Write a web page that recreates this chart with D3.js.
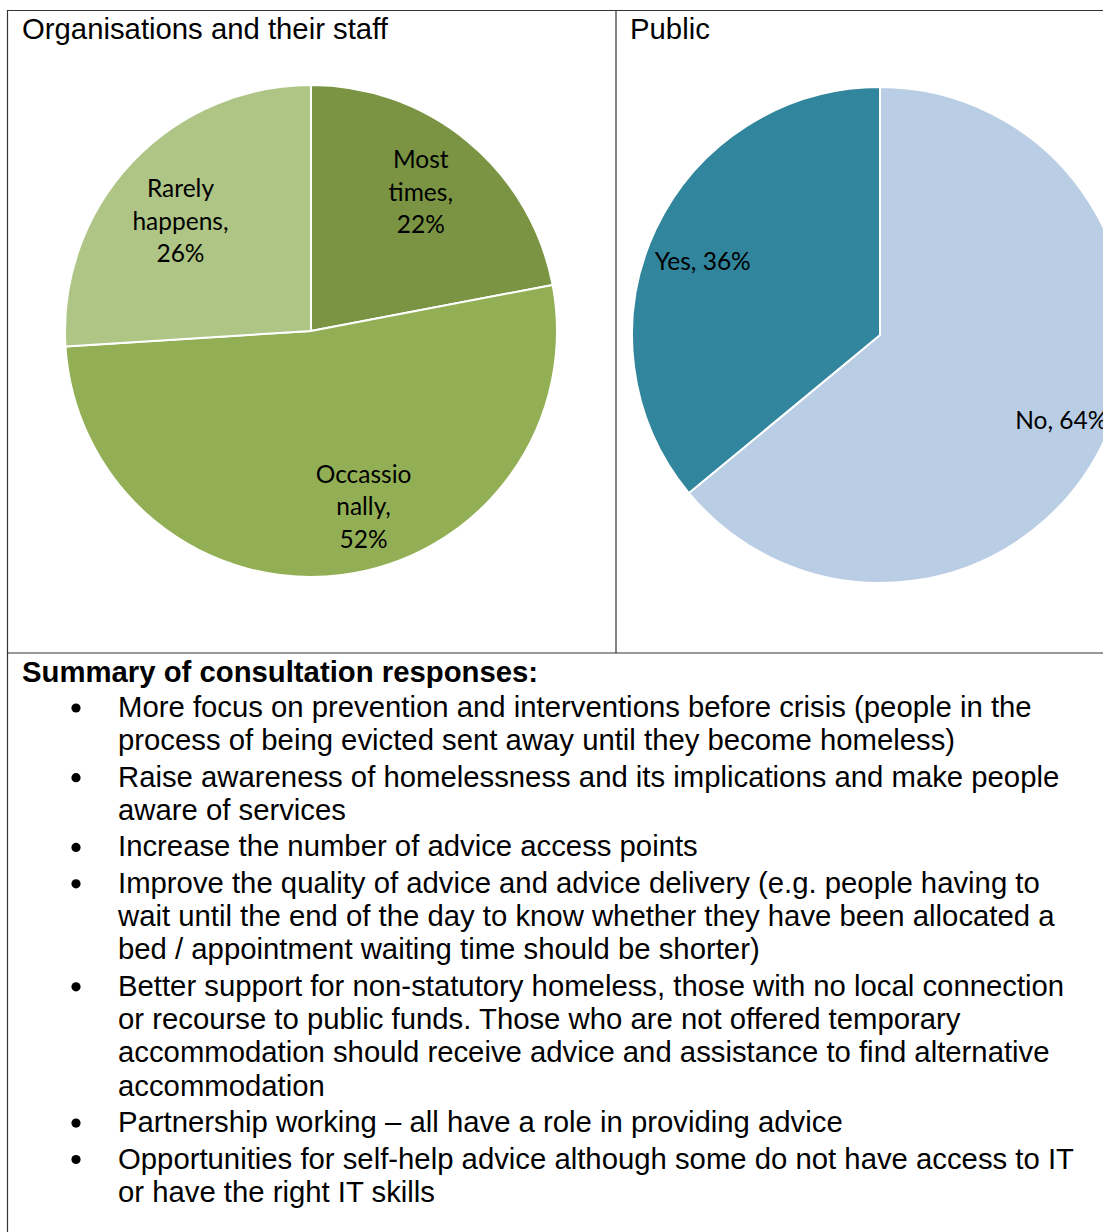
<!DOCTYPE html>
<html>
<head>
<meta charset="utf-8">
<script src="https://cdn.jsdelivr.net/npm/d3@7"></script>
<style>
  html, body { margin: 0; padding: 0; background: #fff; }
  svg { display: block; }
</style>
</head>
<body>
<script>
// ---------- Data ----------
const orgCategories = ["Most times", "Occassionally", "Rarely happens"];
const orgValues = [22, 52, 26];
const orgLabelLines = [["Most", "times,", "22%"], ["Occassio", "nally,", "52%"], ["Rarely", "happens,", "26%"]];

const publicCategories = ["No", "Yes"];
const publicValues = [64, 36];
const publicLabelLines = [["No, 64%"], ["Yes, 36%"]];

const panelTitles = ["Organisations and their staff", "Public"];

const summaryHeading = "Summary of consultation responses:";
const summaryBullets = [
  ["More focus on prevention and interventions before crisis (people in the",
   "process of being evicted sent away until they become homeless)"],
  ["Raise awareness of homelessness and its implications and make people",
   "aware of services"],
  ["Increase the number of advice access points"],
  ["Improve the quality of advice and advice delivery (e.g. people having to",
   "wait until the end of the day to know whether they have been allocated a",
   "bed / appointment waiting time should be shorter)"],
  ["Better support for non-statutory homeless, those with no local connection",
   "or recourse to public funds. Those who are not offered temporary",
   "accommodation should receive advice and assistance to find alternative",
   "accommodation"],
  ["Partnership working \u2013 all have a role in providing advice"],
  ["Opportunities for self-help advice although some do not have access to IT",
   "or have the right IT skills"]
];

// ---------- Layout / style ----------
const W = 1103, H = 1232;
const orgColors = ["#7a9443", "#93af55", "#aec585"];
const publicColors = ["#b9cde5", "#31859c"];
const lineColor = "#333";
const sansFont = "'Liberation Sans', Arial, sans-serif";
const labelFont = "Lato, 'Open Sans', sans-serif";
const bodySize = 29.3;

const svg = d3.select("body").append("svg")
  .attr("width", W).attr("height", H);

// Table borders
const border = svg.append("g").attr("stroke", lineColor).attr("stroke-width", 1.2).attr("fill", "none");
border.append("line").attr("x1", 7).attr("x2", W).attr("y1", 10.5).attr("y2", 10.5);
border.append("line").attr("x1", 7.5).attr("x2", 7.5).attr("y1", 10).attr("y2", H);
border.append("line").attr("x1", 616).attr("x2", 616).attr("y1", 10).attr("y2", 653);
border.append("line").attr("x1", 7).attr("x2", W).attr("y1", 653).attr("y2", 653);

// Panel titles
svg.selectAll("text.title").data(panelTitles).join("text")
  .attr("class", "title")
  .attr("x", (d, i) => i === 0 ? 22 : 630)
  .attr("y", 39)
  .attr("font-family", sansFont)
  .attr("font-size", bodySize)
  .attr("fill", "#000")
  .text(d => d);

// ---------- Pie helper ----------
function drawPie(cfg) {
  const pie = d3.pie().sort(null).value(d => d)(cfg.values);
  const arc = d3.arc().innerRadius(0).outerRadius(cfg.r);
  const labelArc = d3.arc().innerRadius(cfg.r * cfg.labelR).outerRadius(cfg.r * cfg.labelR);
  const g = svg.append("g").attr("transform", `translate(${cfg.cx},${cfg.cy})`);
  g.selectAll("path").data(pie).join("path")
    .attr("d", arc)
    .attr("fill", (d, i) => cfg.colors[i])
    .attr("stroke", "#fff")
    .attr("stroke-width", 2)
    .attr("stroke-linejoin", "round");
  const lh = cfg.lineHeight;
  const lbl = g.selectAll("g.lbl").data(pie).join("g")
    .attr("class", "lbl")
    .attr("transform", (d, i) => {
      const c = labelArc.centroid(d);
      const n = cfg.nudge[i] || [0, 0];
      return `translate(${c[0] + n[0]},${c[1] + n[1]})`;
    });
  lbl.each(function(d, i) {
    const lines = cfg.lines[i];
    const sel = d3.select(this);
    const y0 = -((lines.length - 1) * lh) / 2;
    lines.forEach((t, k) => {
      sel.append("text")
        .attr("x", 0)
        .attr("y", y0 + k * lh)
        .attr("dy", "0.35em")
        .attr("text-anchor", "middle")
        .attr("font-family", labelFont)
        .attr("font-size", cfg.fontSize)
        .attr("fill", "#000")
        .text(t);
    });
  });
}

drawPie({
  values: orgValues, colors: orgColors, lines: orgLabelLines,
  cx: 311, cy: 331, r: 246, labelR: 0.70, lineHeight: 32.5, fontSize: 24.5,
  nudge: [[0, -6], [31, 5], [-5, 8]]
});

drawPie({
  values: publicValues, colors: publicColors, lines: publicLabelLines,
  cx: 880, cy: 335, r: 248, labelR: 0.79, lineHeight: 32, fontSize: 24.5,
  nudge: [[4, 2], [0, 10]]
});

// ---------- Summary ----------
svg.append("text")
  .attr("x", 22).attr("y", 682)
  .attr("font-family", sansFont)
  .attr("font-size", bodySize)
  .attr("font-weight", "bold")
  .attr("fill", "#000")
  .text(summaryHeading);

const lineStep = 33.3, bulletStep = 36.4;
let y = 717;
const bulletG = svg.append("g");
summaryBullets.forEach((lines, bi) => {
  bulletG.append("circle")
    .attr("cx", 76).attr("cy", y - 9).attr("r", 4.6).attr("fill", "#000");
  lines.forEach((t, li) => {
    bulletG.append("text")
      .attr("x", 118).attr("y", y)
      .attr("font-family", sansFont)
      .attr("font-size", bodySize)
      .attr("fill", "#000")
      .text(t);
    if (li < lines.length - 1) y += lineStep;
  });
  y += bulletStep;
});
</script>
</body>
</html>
